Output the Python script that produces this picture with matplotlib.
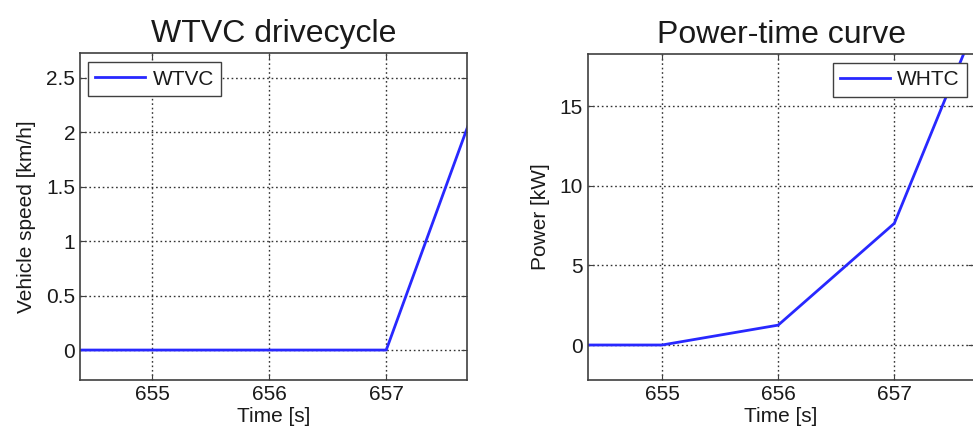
"""WTVC drivecycle speed and WHTC power-time curve, MATLAB-like look."""
import matplotlib
matplotlib.use("Agg")
import matplotlib.pyplot as plt

plt.rcParams["font.family"] = ["Liberation Sans", "DejaVu Sans"]

# data
speed_time = [654.0, 655.0, 656.0, 657.0, 658.0]
speed_kmh = [0.0, 0.0, 0.0, 0.0, 2.95]

power_time = [654.0, 655.0, 656.0, 657.0, 658.0]
power_kw = [0.0, 0.0, 1.25, 7.65, 25.5]

x_ticks = [655, 656, 657]
speed_ticks = [0, 0.5, 1, 1.5, 2, 2.5]
speed_tick_labels = ["0", "0.5", "1", "1.5", "2", "2.5"]
power_ticks = [0, 5, 10, 15]

LINE_COLOR = "#2828ff"
SPINE_COLOR = "#404040"
TEXT_COLOR = "#1a1a1a"


def style_axes(ax):
    for sp in ax.spines.values():
        sp.set_color(SPINE_COLOR)
        sp.set_linewidth(1.2)
    ax.tick_params(direction="in", length=4, width=0.8, colors=SPINE_COLOR,
                   labelcolor=TEXT_COLOR, labelsize=15, top=True, right=True)
    ax.grid(True, linestyle=(0, (1.2, 2.0)), color="#333333", linewidth=1.0)
    ax.set_axisbelow(True)


def add_legend(ax, loc, anchor):
    leg = ax.legend(loc=loc, bbox_to_anchor=anchor, fontsize=15, fancybox=False,
                    framealpha=1, edgecolor=SPINE_COLOR, handlelength=2.4,
                    borderpad=0.35, handletextpad=0.35, borderaxespad=0)
    leg.get_frame().set_linewidth(1.0)
    for t in leg.get_texts():
        t.set_color(TEXT_COLOR)
    return leg


fig = plt.figure(figsize=(9.73, 4.32), dpi=100)

ax1 = fig.add_axes([0.0822, 0.1204, 0.3978, 0.7566])
ax1.plot(speed_time, speed_kmh, color=LINE_COLOR, linewidth=2.0, label="WTVC")
ax1.set_xlim(654.385, 657.69)
ax1.set_ylim(-0.275, 2.727)
ax1.set_xticks(x_ticks)
ax1.set_yticks(speed_ticks)
ax1.set_yticklabels(speed_tick_labels)
style_axes(ax1)
ax1.set_title("WTVC drivecycle", fontsize=23, pad=8, color=TEXT_COLOR)
ax1.set_xlabel("Time [s]", fontsize=15, labelpad=2, color=TEXT_COLOR)
ax1.set_ylabel("Vehicle speed [km/h]", fontsize=15, labelpad=7, color=TEXT_COLOR)
add_legend(ax1, "upper left", (0.021, 0.972))

ax2 = fig.add_axes([0.604, 0.1204, 0.3975, 0.7546])
ax2.plot(power_time, power_kw, color=LINE_COLOR, linewidth=2.0, label="WHTC")
ax2.set_xlim(654.36, 657.69)
ax2.set_ylim(-2.2, 18.3)
ax2.set_xticks(x_ticks)
ax2.set_yticks(power_ticks)
style_axes(ax2)
ax2.set_title("Power-time curve", fontsize=23, pad=8, color=TEXT_COLOR)
ax2.set_xlabel("Time [s]", fontsize=15, labelpad=2, color=TEXT_COLOR)
ax2.set_ylabel("Power [kW]", fontsize=15, labelpad=7, color=TEXT_COLOR)
add_legend(ax2, "upper right", (0.981, 0.972))

fig.savefig("out.png", dpi=100)
